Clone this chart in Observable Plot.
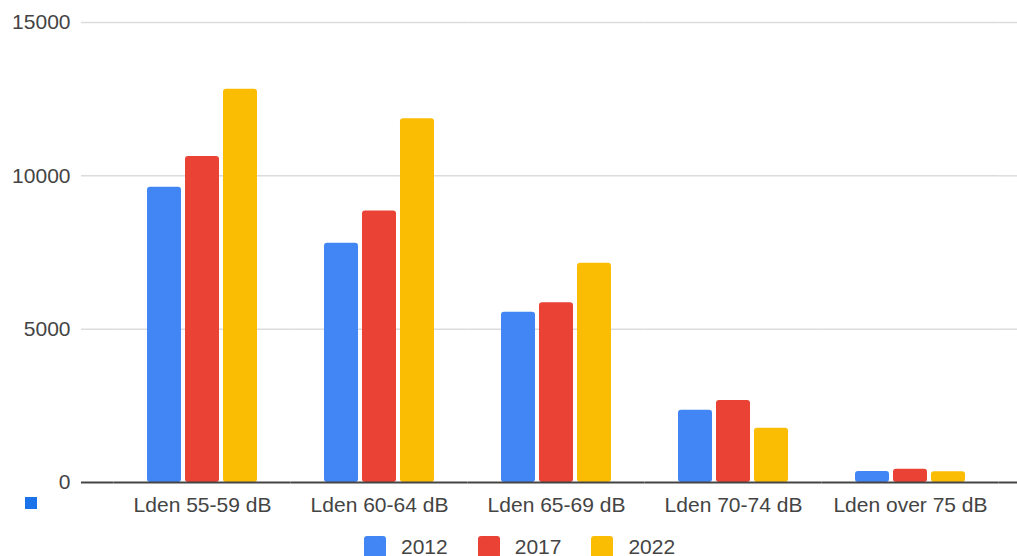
<!DOCTYPE html>
<html>
<head>
<meta charset="utf-8">
<script src="https://cdn.jsdelivr.net/npm/d3@7"></script>
<script src="https://cdn.jsdelivr.net/npm/@observablehq/plot@0.6"></script>
<style>
  html, body { margin: 0; padding: 0; background: #fff; }
  #wrap { position: relative; width: 1017px; height: 556px; overflow: hidden; font-family: "Liberation Sans", Arial, sans-serif; }
  #marker { position: absolute; left: 25px; top: 497px; width: 12px; height: 12px; background: #1a73e8; }
  .lg-swatches { font-family: "Liberation Sans", Arial, sans-serif !important; font-size: 21px !important; color: #444 !important; margin: 14px 0 0 0 !important; padding-left: 364px !important; }
  .lg-swatches-wrap { min-height: 22px !important; line-height: 22px !important; flex-wrap: nowrap !important; }
  .lg-swatches-wrap .lg-swatch { margin-right: 30px !important; }
  .lg-swatch > svg { margin-right: 15px !important; }
  .lg-swatch rect { rx: 3px; }
</style>
</head>
<body>
<div id="wrap"><div id="marker"></div></div>
<script>
const categories = ["Lden 55-59 dB", "Lden 60-64 dB", "Lden 65-69 dB", "Lden 70-74 dB", "Lden over 75 dB"];
const years = ["2012", "2017", "2022"];
const v2012 = [9630, 7800, 5550, 2360, 360];
const v2017 = [10630, 8850, 5860, 2670, 430];
const v2022 = [12820, 11860, 7150, 1770, 350];
const yTicks = [0, 5000, 10000, 15000];
const colors = ["#4285f4", "#ea4335", "#fbbc04"];

const series = {"2012": v2012, "2017": v2017, "2022": v2022};
const data = [];
categories.forEach((c, i) => years.forEach(y => data.push({category: c, year: y, value: series[y][i]})));

const textColor = "#444";
const plot = Plot.plot({
  width: 1017,
  height: 522,
  marginTop: 22,
  marginBottom: 40,
  marginLeft: 113.5,
  marginRight: 18.5,
  style: {fontFamily: "'Liberation Sans', Arial, sans-serif", fontSize: "21px", color: textColor, background: "transparent", overflow: "visible"},
  fx: {domain: categories, padding: 0, round: false, label: null},
  x: {domain: years, paddingInner: 0.105, paddingOuter: 0.882, round: false, axis: null},
  y: {domain: [0, 15000], label: null},
  color: {domain: years, range: colors},
  marks: [
    Plot.ruleY(yTicks.slice(1), {stroke: "#dcdcdc", strokeWidth: 1.5}),
    Plot.ruleY(yTicks.slice(1), {stroke: "#dcdcdc", strokeWidth: 1.5, facetAnchor: "left", insetLeft: -32.5, insetRight: 177}),
    Plot.ruleY(yTicks.slice(1), {stroke: "#dcdcdc", strokeWidth: 1.5, facetAnchor: "right", insetLeft: 177, insetRight: -18.5}),
    Plot.barY(data, {fx: "category", x: "year", y: "value", fill: "year", rx: 3}),
    Plot.ruleY([0], {stroke: "#444", strokeWidth: 2}),
    Plot.ruleY([0], {stroke: "#444", strokeWidth: 2, facetAnchor: "left", insetLeft: -32.5, insetRight: 177}),
    Plot.ruleY([0], {stroke: "#444", strokeWidth: 2, facetAnchor: "right", insetLeft: 177, insetRight: -18.5}),
    Plot.axisY({ticks: yTicks, tickFormat: d3.format("d"), tickSize: 0, tickPadding: 43.5, label: null, fill: textColor}),
    Plot.axisFx({anchor: "bottom", tickSize: 0, tickPadding: 15, label: null, fill: textColor})
  ]
});
const wrap = document.getElementById("wrap");
wrap.appendChild(plot);
const legend = plot.legend("color", {className: "lg", swatchSize: 22});
wrap.appendChild(legend);
</script>
</body>
</html>
